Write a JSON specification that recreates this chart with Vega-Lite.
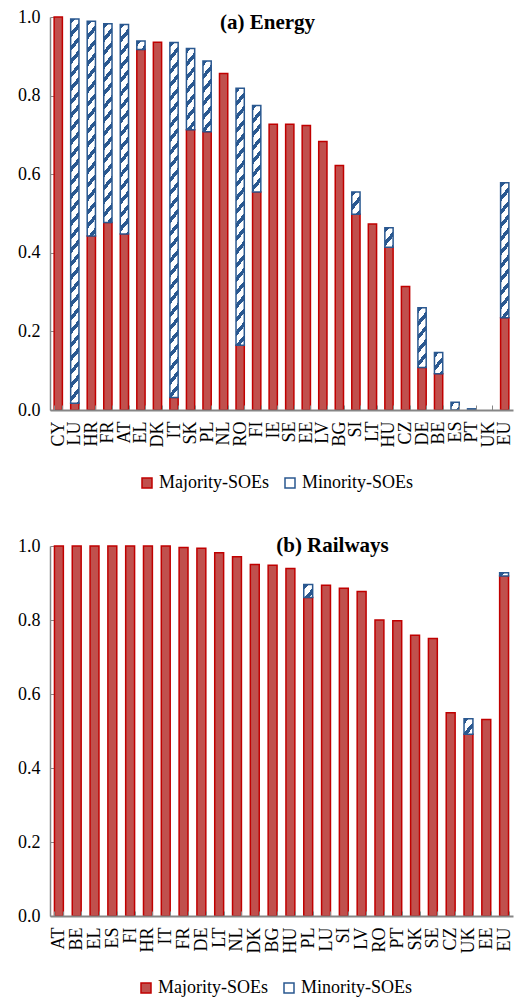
{
 "$schema": "https://vega.github.io/schema/vega-lite/v6.json",
 "padding": {"left": 17, "top": 8, "right": 0, "bottom": 0},
 "background": "white",
 "config": {
  "font": "Liberation Serif",
  "view": {"stroke": null},
  "axis": {"labelFont": "Liberation Serif", "labelFontSize": 18, "labelColor": "#000", "domainColor": "#868686", "tickColor": "#868686", "grid": false, "title": null},
  "legend": {"labelFont": "Liberation Serif", "labelFontSize": 18, "labelColor": "#000"},
  "title": {"font": "Liberation Serif", "fontSize": 21, "fontWeight": "bold", "color": "#000"}
 },
 "params": [
  {"name": "stripes", "value": [
   {"offset":0,"color":"#2a5890"},{"offset":0.0133,"color":"#2a5890"},{"offset":0.0133,"color":"#fff"},{"offset":0.0333,"color":"#fff"},
   {"offset":0.0333,"color":"#2a5890"},{"offset":0.0467,"color":"#2a5890"},{"offset":0.0467,"color":"#fff"},{"offset":0.0667,"color":"#fff"},
   {"offset":0.0667,"color":"#2a5890"},{"offset":0.08,"color":"#2a5890"},{"offset":0.08,"color":"#fff"},{"offset":0.1,"color":"#fff"},
   {"offset":0.1,"color":"#2a5890"},{"offset":0.1133,"color":"#2a5890"},{"offset":0.1133,"color":"#fff"},{"offset":0.1333,"color":"#fff"},
   {"offset":0.1333,"color":"#2a5890"},{"offset":0.1467,"color":"#2a5890"},{"offset":0.1467,"color":"#fff"},{"offset":0.1667,"color":"#fff"},
   {"offset":0.1667,"color":"#2a5890"},{"offset":0.18,"color":"#2a5890"},{"offset":0.18,"color":"#fff"},{"offset":0.2,"color":"#fff"},
   {"offset":0.2,"color":"#2a5890"},{"offset":0.2133,"color":"#2a5890"},{"offset":0.2133,"color":"#fff"},{"offset":0.2333,"color":"#fff"},
   {"offset":0.2333,"color":"#2a5890"},{"offset":0.2467,"color":"#2a5890"},{"offset":0.2467,"color":"#fff"},{"offset":0.2667,"color":"#fff"},
   {"offset":0.2667,"color":"#2a5890"},{"offset":0.28,"color":"#2a5890"},{"offset":0.28,"color":"#fff"},{"offset":0.3,"color":"#fff"},
   {"offset":0.3,"color":"#2a5890"},{"offset":0.3133,"color":"#2a5890"},{"offset":0.3133,"color":"#fff"},{"offset":0.3333,"color":"#fff"},
   {"offset":0.3333,"color":"#2a5890"},{"offset":0.3467,"color":"#2a5890"},{"offset":0.3467,"color":"#fff"},{"offset":0.3667,"color":"#fff"},
   {"offset":0.3667,"color":"#2a5890"},{"offset":0.38,"color":"#2a5890"},{"offset":0.38,"color":"#fff"},{"offset":0.4,"color":"#fff"},
   {"offset":0.4,"color":"#2a5890"},{"offset":0.4133,"color":"#2a5890"},{"offset":0.4133,"color":"#fff"},{"offset":0.4333,"color":"#fff"},
   {"offset":0.4333,"color":"#2a5890"},{"offset":0.4467,"color":"#2a5890"},{"offset":0.4467,"color":"#fff"},{"offset":0.4667,"color":"#fff"},
   {"offset":0.4667,"color":"#2a5890"},{"offset":0.48,"color":"#2a5890"},{"offset":0.48,"color":"#fff"},{"offset":0.5,"color":"#fff"},
   {"offset":0.5,"color":"#2a5890"},{"offset":0.5133,"color":"#2a5890"},{"offset":0.5133,"color":"#fff"},{"offset":0.5333,"color":"#fff"},
   {"offset":0.5333,"color":"#2a5890"},{"offset":0.5467,"color":"#2a5890"},{"offset":0.5467,"color":"#fff"},{"offset":0.5667,"color":"#fff"},
   {"offset":0.5667,"color":"#2a5890"},{"offset":0.58,"color":"#2a5890"},{"offset":0.58,"color":"#fff"},{"offset":0.6,"color":"#fff"},
   {"offset":0.6,"color":"#2a5890"},{"offset":0.6133,"color":"#2a5890"},{"offset":0.6133,"color":"#fff"},{"offset":0.6333,"color":"#fff"},
   {"offset":0.6333,"color":"#2a5890"},{"offset":0.6467,"color":"#2a5890"},{"offset":0.6467,"color":"#fff"},{"offset":0.6667,"color":"#fff"},
   {"offset":0.6667,"color":"#2a5890"},{"offset":0.68,"color":"#2a5890"},{"offset":0.68,"color":"#fff"},{"offset":0.7,"color":"#fff"},
   {"offset":0.7,"color":"#2a5890"},{"offset":0.7133,"color":"#2a5890"},{"offset":0.7133,"color":"#fff"},{"offset":0.7333,"color":"#fff"},
   {"offset":0.7333,"color":"#2a5890"},{"offset":0.7467,"color":"#2a5890"},{"offset":0.7467,"color":"#fff"},{"offset":0.7667,"color":"#fff"},
   {"offset":0.7667,"color":"#2a5890"},{"offset":0.78,"color":"#2a5890"},{"offset":0.78,"color":"#fff"},{"offset":0.8,"color":"#fff"},
   {"offset":0.8,"color":"#2a5890"},{"offset":0.8133,"color":"#2a5890"},{"offset":0.8133,"color":"#fff"},{"offset":0.8333,"color":"#fff"},
   {"offset":0.8333,"color":"#2a5890"},{"offset":0.8467,"color":"#2a5890"},{"offset":0.8467,"color":"#fff"},{"offset":0.8667,"color":"#fff"},
   {"offset":0.8667,"color":"#2a5890"},{"offset":0.88,"color":"#2a5890"},{"offset":0.88,"color":"#fff"},{"offset":0.9,"color":"#fff"},
   {"offset":0.9,"color":"#2a5890"},{"offset":0.9133,"color":"#2a5890"},{"offset":0.9133,"color":"#fff"},{"offset":0.9333,"color":"#fff"},
   {"offset":0.9333,"color":"#2a5890"},{"offset":0.9467,"color":"#2a5890"},{"offset":0.9467,"color":"#fff"},{"offset":0.9667,"color":"#fff"},
   {"offset":0.9667,"color":"#2a5890"},{"offset":0.98,"color":"#2a5890"},{"offset":0.98,"color":"#fff"},{"offset":1,"color":"#fff"}
  ]}
 ],
 "spacing": 43,
 "resolve": {"scale": {"fill": "independent", "stroke": "independent"}, "legend": {"fill": "independent", "stroke": "independent"}},
 "vconcat": [
  {
   "width": 463,
   "height": 393,
   "title": {"text": "(a) Energy", "anchor": "middle", "frame": "group", "dx": -14, "dy": 42, "offset": 0, "baseline": "alphabetic"},
   "data": {"values": [
    {"c":"CY","type":"Majority-SOEs","v":1.0},
    {"c":"LU","type":"Majority-SOEs","v":0.017},{"c":"LU","type":"Minority-SOEs","v":0.978},
    {"c":"HR","type":"Majority-SOEs","v":0.443},{"c":"HR","type":"Minority-SOEs","v":0.546},
    {"c":"FR","type":"Majority-SOEs","v":0.477},{"c":"FR","type":"Minority-SOEs","v":0.506},
    {"c":"AT","type":"Majority-SOEs","v":0.448},{"c":"AT","type":"Minority-SOEs","v":0.533},
    {"c":"EL","type":"Majority-SOEs","v":0.917},{"c":"EL","type":"Minority-SOEs","v":0.022},
    {"c":"DK","type":"Majority-SOEs","v":0.936},
    {"c":"IT","type":"Majority-SOEs","v":0.032},{"c":"IT","type":"Minority-SOEs","v":0.903},
    {"c":"SK","type":"Majority-SOEs","v":0.713},{"c":"SK","type":"Minority-SOEs","v":0.207},
    {"c":"PL","type":"Majority-SOEs","v":0.708},{"c":"PL","type":"Minority-SOEs","v":0.180},
    {"c":"NL","type":"Majority-SOEs","v":0.856},
    {"c":"RO","type":"Majority-SOEs","v":0.165},{"c":"RO","type":"Minority-SOEs","v":0.654},
    {"c":"FI","type":"Majority-SOEs","v":0.555},{"c":"FI","type":"Minority-SOEs","v":0.220},
    {"c":"IE","type":"Majority-SOEs","v":0.727},
    {"c":"SE","type":"Majority-SOEs","v":0.727},
    {"c":"EE","type":"Majority-SOEs","v":0.724},
    {"c":"LV","type":"Majority-SOEs","v":0.683},
    {"c":"BG","type":"Majority-SOEs","v":0.622},
    {"c":"SI","type":"Majority-SOEs","v":0.498},{"c":"SI","type":"Minority-SOEs","v":0.057},
    {"c":"LT","type":"Majority-SOEs","v":0.473},
    {"c":"HU","type":"Majority-SOEs","v":0.414},{"c":"HU","type":"Minority-SOEs","v":0.050},
    {"c":"CZ","type":"Majority-SOEs","v":0.314},
    {"c":"DE","type":"Majority-SOEs","v":0.108},{"c":"DE","type":"Minority-SOEs","v":0.152},
    {"c":"BE","type":"Majority-SOEs","v":0.092},{"c":"BE","type":"Minority-SOEs","v":0.054},
    {"c":"ES","type":"Minority-SOEs","v":0.020},
    {"c":"PT","type":"Minority-SOEs","v":0.003},
    {"c":"EU","type":"Majority-SOEs","v":0.235},{"c":"EU","type":"Minority-SOEs","v":0.343}
   ]},
   "mark": {"type": "bar", "strokeWidth": 1.5},
   "encoding": {
    "x": {"field": "c", "type": "nominal",
     "scale": {"domain": ["CY","LU","HR","FR","AT","EL","DK","IT","SK","PL","NL","RO","FI","IE","SE","EE","LV","BG","SI","LT","HU","CZ","DE","BE","ES","PT","UK","EU"], "paddingInner": 0.5, "paddingOuter": 0.25},
     "axis": {"labelAngle": -90, "labelPadding": 16, "tickSize": -5, "tickBand": "extent", "domainWidth": 2, "zindex": 1}},
    "y": {"field": "v", "type": "quantitative", "stack": "zero",
     "scale": {"domain": [0, 1], "nice": false},
     "axis": {"values": [0, 0.2, 0.4, 0.6, 0.8, 1], "format": ".1f", "tickSize": -4, "labelPadding": 14, "domainWidth": 1.5}},
    "order": {"field": "type", "sort": "ascending"},
    "fill": {"field": "type", "type": "nominal",
     "scale": {"domain": ["Majority-SOEs", "Minority-SOEs"], "range": ["#C0504D", "#ffffff"]},
     "condition": {"test": "datum.type === 'Minority-SOEs'", "value": {"expr": "{gradient: 'linear', x1: 0, y1: 0, x2: 4050 / (pow(datum.v * 393, 2) + 100), y2: 405 * datum.v * 393 / (pow(datum.v * 393, 2) + 100), stops: stripes}"}},
     "legend": {"orient": "none", "legendX": 88, "legendY": 457, "direction": "horizontal", "title": null, "symbolType": "square", "symbolSize": 100, "symbolStrokeWidth": 1.5, "labelOffset": 3, "columnPadding": 12, "padding": 0,
      "encode": {"symbols": {"update": {"fill": [{"test": "datum.value === 'Minority-SOEs'", "signal": "{gradient: 'linear', x1: 0, y1: 0, x2: 1, y2: 1, stops: [{offset: 0, color: '#fff'}, {offset: 0.55, color: '#fff'}, {offset: 0.55, color: '#2a5890'}, {offset: 1, color: '#2a5890'}]}"}, {"value": "#C0504D"}]}}}}},
    "stroke": {"field": "type", "type": "nominal",
     "scale": {"domain": ["Majority-SOEs", "Minority-SOEs"], "range": ["#C00000", "#2a5890"]},
     "legend": {"orient": "none", "legendX": 88, "legendY": 457, "direction": "horizontal", "title": null, "symbolType": "square", "symbolSize": 100, "symbolStrokeWidth": 1.5, "labelOffset": 3, "columnPadding": 12, "padding": 0}}
   }
  },
  {
   "width": 463,
   "height": 370,
   "title": {"text": "(b) Railways", "anchor": "middle", "frame": "group", "dx": 51, "dy": 36, "offset": 0, "baseline": "alphabetic"},
   "data": {"values": [
    {"c":"AT","type":"Majority-SOEs","v":1.0},
    {"c":"BE","type":"Majority-SOEs","v":1.0},
    {"c":"EL","type":"Majority-SOEs","v":1.0},
    {"c":"ES","type":"Majority-SOEs","v":1.0},
    {"c":"FI","type":"Majority-SOEs","v":1.0},
    {"c":"HR","type":"Majority-SOEs","v":1.0},
    {"c":"IT","type":"Majority-SOEs","v":1.0},
    {"c":"FR","type":"Majority-SOEs","v":0.996},
    {"c":"DE","type":"Majority-SOEs","v":0.994},
    {"c":"LT","type":"Majority-SOEs","v":0.982},
    {"c":"NL","type":"Majority-SOEs","v":0.971},
    {"c":"DK","type":"Majority-SOEs","v":0.950},
    {"c":"BG","type":"Majority-SOEs","v":0.948},
    {"c":"HU","type":"Majority-SOEs","v":0.939},
    {"c":"PL","type":"Majority-SOEs","v":0.861},{"c":"PL","type":"Minority-SOEs","v":0.035},
    {"c":"LU","type":"Majority-SOEs","v":0.894},
    {"c":"SI","type":"Majority-SOEs","v":0.886},
    {"c":"LV","type":"Majority-SOEs","v":0.877},
    {"c":"RO","type":"Majority-SOEs","v":0.800},
    {"c":"PT","type":"Majority-SOEs","v":0.798},
    {"c":"SK","type":"Majority-SOEs","v":0.759},
    {"c":"SE","type":"Majority-SOEs","v":0.750},
    {"c":"CZ","type":"Majority-SOEs","v":0.549},
    {"c":"UK","type":"Majority-SOEs","v":0.491},{"c":"UK","type":"Minority-SOEs","v":0.042},
    {"c":"EE","type":"Majority-SOEs","v":0.531},
    {"c":"EU","type":"Majority-SOEs","v":0.919},{"c":"EU","type":"Minority-SOEs","v":0.009}
   ]},
   "mark": {"type": "bar", "strokeWidth": 1.5},
   "encoding": {
    "x": {"field": "c", "type": "nominal",
     "scale": {"domain": ["AT","BE","EL","ES","FI","HR","IT","FR","DE","LT","NL","DK","BG","HU","PL","LU","SI","LV","RO","PT","SK","SE","CZ","UK","EE","EU"], "paddingInner": 0.5, "paddingOuter": 0.25},
     "axis": {"labelAngle": -90, "labelPadding": 16, "tickSize": -5, "tickBand": "extent", "domainWidth": 2, "zindex": 1}},
    "y": {"field": "v", "type": "quantitative", "stack": "zero",
     "scale": {"domain": [0, 1], "nice": false},
     "axis": {"values": [0, 0.2, 0.4, 0.6, 0.8, 1], "format": ".1f", "tickSize": -4, "labelPadding": 14, "domainWidth": 1.5}},
    "order": {"field": "type", "sort": "ascending"},
    "fill": {"field": "type", "type": "nominal",
     "scale": {"domain": ["Majority-SOEs", "Minority-SOEs"], "range": ["#C0504D", "#ffffff"]},
     "condition": {"test": "datum.type === 'Minority-SOEs'", "value": {"expr": "{gradient: 'linear', x1: 0, y1: 0, x2: 4050 / (pow(datum.v * 370, 2) + 100), y2: 405 * datum.v * 370 / (pow(datum.v * 370, 2) + 100), stops: stripes}"}},
     "legend": {"orient": "none", "legendX": 87, "legendY": 433, "direction": "horizontal", "title": null, "symbolType": "square", "symbolSize": 100, "symbolStrokeWidth": 1.5, "labelOffset": 3, "columnPadding": 12, "padding": 0,
      "encode": {"symbols": {"update": {"fill": [{"test": "datum.value === 'Minority-SOEs'", "signal": "{gradient: 'linear', x1: 0, y1: 0, x2: 1, y2: 1, stops: [{offset: 0, color: '#fff'}, {offset: 0.55, color: '#fff'}, {offset: 0.55, color: '#2a5890'}, {offset: 1, color: '#2a5890'}]}"}, {"value": "#C0504D"}]}}}}},
    "stroke": {"field": "type", "type": "nominal",
     "scale": {"domain": ["Majority-SOEs", "Minority-SOEs"], "range": ["#C00000", "#2a5890"]},
     "legend": {"orient": "none", "legendX": 87, "legendY": 433, "direction": "horizontal", "title": null, "symbolType": "square", "symbolSize": 100, "symbolStrokeWidth": 1.5, "labelOffset": 3, "columnPadding": 12, "padding": 0}}
   }
  }
 ]
}
